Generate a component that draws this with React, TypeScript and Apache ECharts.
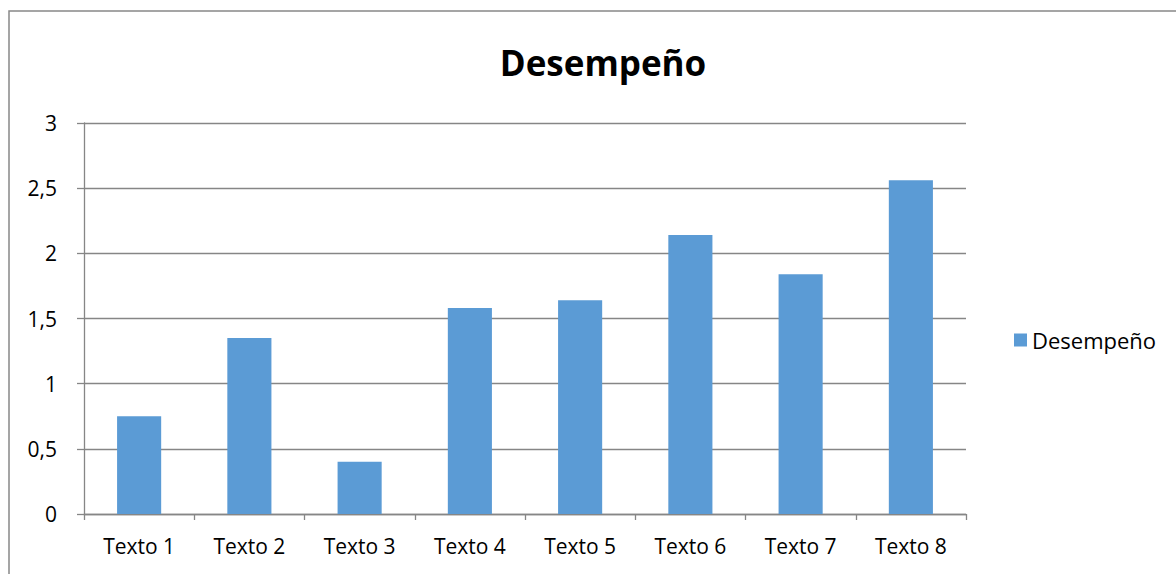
import React, { useEffect, useRef } from "react";
import * as echarts from "echarts";

const categories = ["Texto 1", "Texto 2", "Texto 3", "Texto 4", "Texto 5", "Texto 6", "Texto 7", "Texto 8"];
const seriesName = "Desempeño";
const values = [0.75, 1.35, 0.4, 1.58, 1.64, 2.14, 1.84, 2.56];
const titleText = "Desempeño";

const FONT = "'Open Sans', 'Noto Sans', sans-serif";
const GRAY = "#868686";

export default function App() {
  const ref = useRef<HTMLDivElement>(null);
  useEffect(() => {
    document.body.style.margin = "0";
    const chart = echarts.init(ref.current!, null, { renderer: "svg" });
    chart.setOption({
      animation: false,
      backgroundColor: "#ffffff",
      title: {
        text: titleText,
        left: 598,
        top: 40,
        textAlign: "center",
        textStyle: { fontFamily: FONT, fontSize: 35, fontWeight: "bold", color: "#000" },
      },
      legend: {
        left: 1009,
        top: 324,
        itemWidth: 13,
        itemHeight: 13,
        itemGap: 10,
        icon: "rect",
        textStyle: { fontFamily: FONT, fontSize: 22, color: "#000", padding: [0, 0, 0, 0] },
        data: [seriesName],
      },
      graphic: [
        {
          type: "rect",
          shape: { x: 9, y: 11, width: 1200, height: 600 },
          style: { fill: "none", stroke: "#888888", lineWidth: 1.5 },
          silent: true,
        },
      ],
      grid: { left: 84, right: 210, top: 123, bottom: 60, containLabel: false },
      xAxis: {
        type: "category",
        data: categories,
        axisLine: { lineStyle: { color: GRAY, width: 1.3 } },
        axisTick: { show: true, length: 6, lineStyle: { color: GRAY, width: 1.3 } },
        axisLabel: { fontFamily: FONT, fontSize: 21, color: "#000", margin: 21 },
      },
      yAxis: {
        type: "value",
        min: 0,
        max: 3,
        interval: 0.5,
        axisLine: { show: true, lineStyle: { color: GRAY, width: 1.3 } },
        axisTick: { show: true, length: 7, lineStyle: { color: GRAY, width: 1.3 } },
        splitLine: { show: true, lineStyle: { color: GRAY, width: 1.3 } },
        axisLabel: {
          fontFamily: FONT,
          fontSize: 21,
          color: "#000",
          margin: 27,
          formatter: (v: number) => String(v).replace(".", ","),
        },
      },
      series: [
        {
          name: seriesName,
          type: "bar",
          data: values,
          barWidth: "40%",
          itemStyle: { color: "#5B9BD5" },
        },
      ],
    });
    return () => chart.dispose();
  }, []);
  return <div ref={ref} style={{ width: 1176, height: 574 }} />;
}
